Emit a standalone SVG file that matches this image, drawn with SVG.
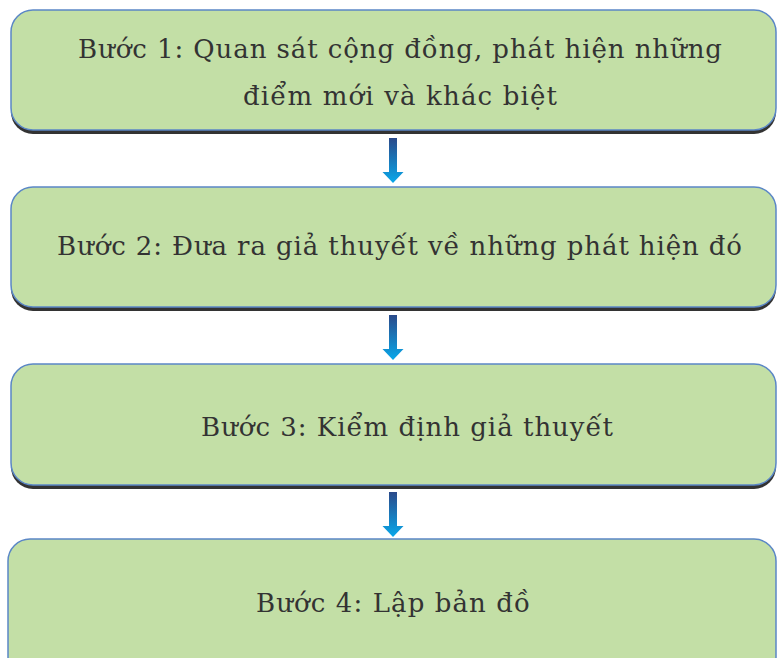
<svg xmlns="http://www.w3.org/2000/svg" width="777" height="658" viewBox="0 0 777 658">
  <style>
    .shadow { fill: #333333; }
    .box { fill: #c3dfa6; stroke: #5b87c6; stroke-width: 1.5; }
    .label { font-family: "DejaVu Serif", "Liberation Serif", serif; font-size: 26px; fill: #333333; text-anchor: middle; }
    .arrow { fill: url(#arrowGrad); }
  </style>
  <defs>
    <linearGradient id="arrowGrad" x1="0" y1="0" x2="0" y2="1">
      <stop offset="0" stop-color="#2b4a8a"/>
      <stop offset="1" stop-color="#08a8ea"/>
    </linearGradient>
  </defs>
  <rect width="777" height="658" fill="#ffffff"/>

  <g id="connectors">
    <path class="arrow" d="M389,138 H397 V172 H403.5 L393,183 L382.5,172 H389 Z"/>
    <path class="arrow" d="M389,315 H397 V349 H403.5 L393,360 L382.5,349 H389 Z"/>
    <path class="arrow" d="M389,492 H397 V526 H403.5 L393,537 L382.5,526 H389 Z"/>
  </g>

  <g id="step1">
    <rect class="shadow" x="11" y="14" width="765" height="120" rx="22"/>
    <rect class="box" x="11" y="10" width="765" height="120" rx="22"/>
    <text class="label" x="400" y="58" textLength="644" lengthAdjust="spacing">Bước 1: Quan sát cộng đồng, phát hiện những</text>
    <text class="label" x="400" y="105" textLength="314" lengthAdjust="spacing">điểm mới và khác biệt</text>
  </g>

  <g id="step2">
    <rect class="shadow" x="11" y="191" width="765" height="120" rx="22"/>
    <rect class="box" x="11" y="187" width="765" height="120" rx="22"/>
    <text class="label" x="399.5" y="255" textLength="685" lengthAdjust="spacing">Bước 2: Đưa ra giả thuyết về những phát hiện đó</text>
  </g>

  <g id="step3">
    <rect class="shadow" x="11" y="368" width="765" height="121" rx="22"/>
    <rect class="box" x="11" y="364" width="765" height="121" rx="22"/>
    <text class="label" x="407" y="436" textLength="412" lengthAdjust="spacing">Bước 3: Kiểm định giả thuyết</text>
  </g>

  <g id="step4">
    <rect class="shadow" x="8" y="543" width="768" height="140" rx="22"/>
    <rect class="box" x="8" y="539" width="768" height="140" rx="22"/>
    <text class="label" x="393" y="612" textLength="274" lengthAdjust="spacing">Bước 4: Lập bản đồ</text>
  </g>
</svg>
